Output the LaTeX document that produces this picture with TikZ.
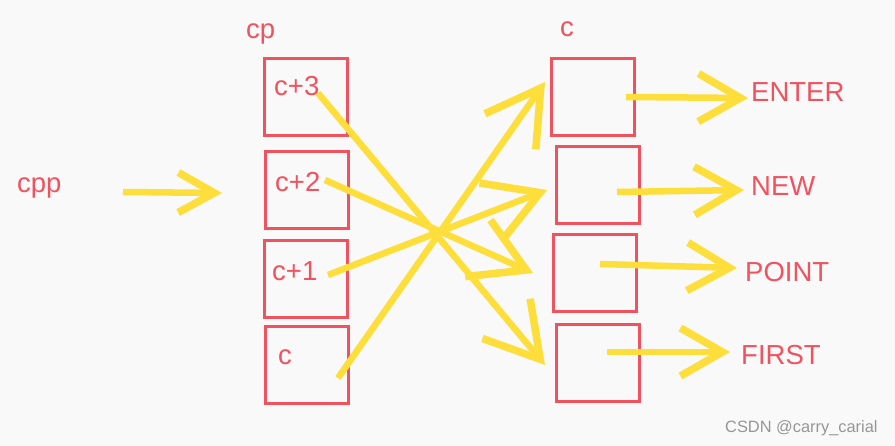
\documentclass[tikz,border=0pt]{standalone}
\usepackage{fontspec}
\setmainfont{Liberation Sans}
\usetikzlibrary{arrows.meta}
\definecolor{boxred}{RGB}{240,82,94}
\definecolor{arrowyel}{RGB}{253,222,58}
\definecolor{bgc}{RGB}{249,249,249}
\definecolor{wmgray}{RGB}{150,150,150}
\begin{document}
\begin{tikzpicture}[x=1pt,y=-1pt,
  cell/.style={draw=boxred, line width=3pt, minimum width=83pt, minimum height=77pt, inner sep=0pt},
  lab/.style={text=boxred, font=\fontsize{27.5}{32}\selectfont, inner sep=0pt, anchor=base west},
  yarrow/.style={draw=arrowyel, line width=6.5pt},
  shorthead/.style={-{Straight Barb[length=36pt,width=40pt,line width=7.5pt]}},
  longhead/.style={-{Straight Barb[length=42pt,width=48pt,line width=7.5pt]}},
  crosshead/.style={-{Straight Barb[length=53pt,width=62pt,line width=7.5pt]}}]
\fill[bgc] (0,0) rectangle (895,446);
\useasboundingbox (0,0) rectangle (895,446);
% left column
\node[cell] (l3) at (306,97) {};
\node[cell] (l2) at (306.5,190.5) {};
\node[cell] (l1) at (305.5,279) {};
\node[cell] (l0) at (306.5,365.5) {};
% right column
\node[cell] (r1) at (593,97) {};
\node[cell] (r2) at (597.5,185.5) {};
\node[cell] (r3) at (594.5,273.5) {};
\node[cell] (r4) at (597.5,363) {};
% labels
\node[lab] (tcpp) at (17,193) {cpp};
\node[lab] (tcp) at (246,39) {cp};
\node[lab] (tc) at (560,37) {c};
\node[lab] (t3) at (274,96) {c+3};
\node[lab] (t2) at (275,192) {c+2};
\node[lab] (t1) at (272,281) {c+1};
\node[lab] (t0) at (278,365) {c};
\node[lab] (enter) at (751,102) {ENTER};
\node[lab] (new) at (751,196) {NEW};
\node[lab] (point) at (745,282) {POINT};
\node[lab] (first) at (741,365) {FIRST};
\node[anchor=base west, inner sep=0pt, text=wmgray, font=\fontsize{16.4}{19}\selectfont] (wm) at (725,433) {CSDN @carry\_carial};
% arrow coordinates
\coordinate (a0s) at (123,192); \coordinate (a0e) at (222,193);
\coordinate (e1s) at (626,97);  \coordinate (e1e) at (748,98);
\coordinate (e2s) at (617,192); \coordinate (e2e) at (744,190);
\coordinate (e3s) at (600,264); \coordinate (e3e) at (737,268);
\coordinate (e4s) at (607,352); \coordinate (e4e) at (730,352);
\coordinate (x3s) at (318,93);  \coordinate (x3e) at (545,365);
\coordinate (x2s) at (325,180); \coordinate (x2e) at (533,273);
\coordinate (x1s) at (328,275); \coordinate (x1e) at (547,190);
\coordinate (x0s) at (338,378); \coordinate (x0e) at (545,82);
% arrows
\draw[yarrow,shorthead] (a0s) -- (a0e);
\draw[yarrow,longhead] (e1s) -- (e1e);
\draw[yarrow,longhead] (e2s) -- (e2e);
\draw[yarrow,longhead] (e3s) -- (e3e);
\draw[yarrow,longhead] (e4s) -- (e4e);
\draw[yarrow,crosshead] (x3s) -- (x3e);
\draw[yarrow,crosshead] (x2s) -- (x2e);
\draw[yarrow,crosshead] (x1s) -- (x1e);
\draw[yarrow,crosshead] (x0s) -- (x0e);
\end{tikzpicture}
\end{document}
